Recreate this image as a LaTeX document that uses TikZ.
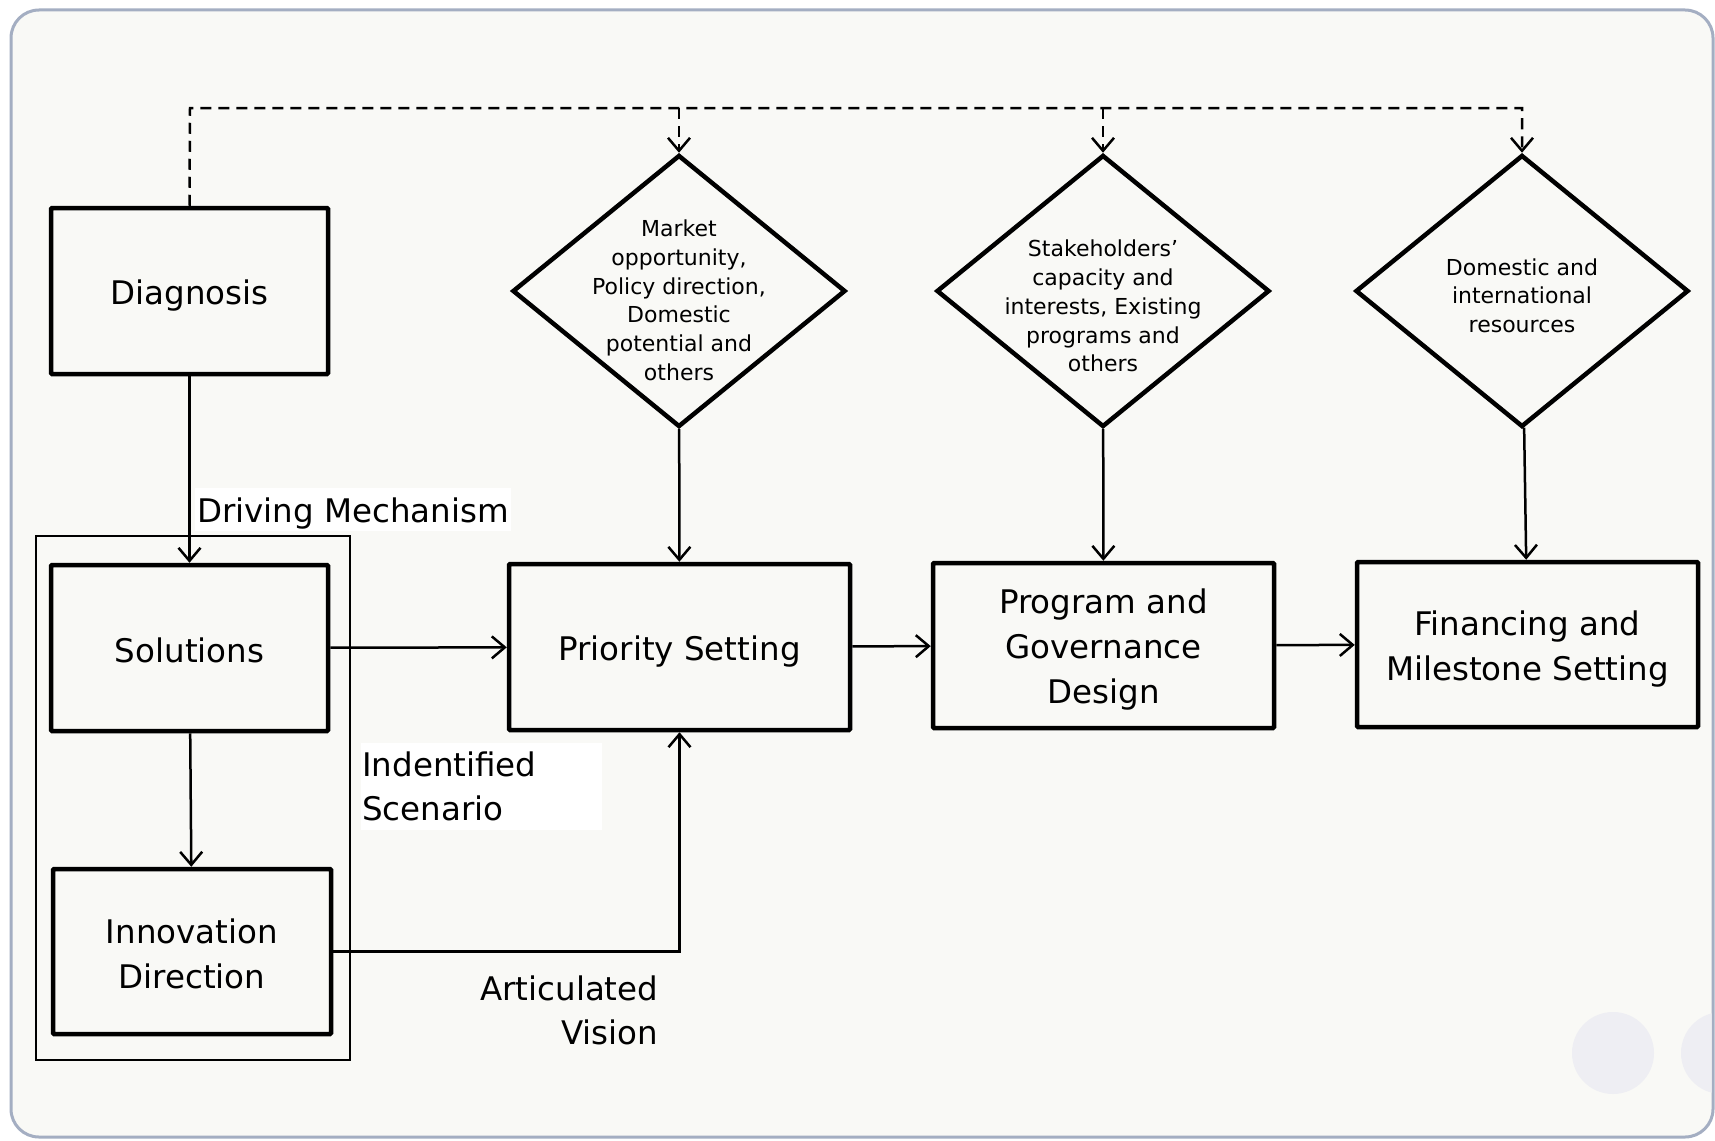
\documentclass[tikz,border=0pt]{standalone}
\usepackage{fontspec}
\setmainfont{DejaVu Sans}
\usetikzlibrary{arrows.meta,shapes.geometric}
\definecolor{panel}{HTML}{F9F9F6}
\definecolor{frameline}{HTML}{A4AEC2}
\definecolor{dot}{HTML}{EEEEF3}
% uniform line metrics for the text in the stage boxes
\newcommand\stagestrut{\rule[-5pt]{0pt}{38pt}}
\begin{document}
\begin{tikzpicture}[x=1pt,y=-1pt,
  stage/.style={draw, line width=4.5pt, rounded corners=1pt, align=center, inner sep=0pt,
    font=\fontsize{32.5}{45}\selectfont},
  factor/.style={draw, diamond, line width=4.5pt, minimum width=333pt, minimum height=272pt, inner sep=0pt},
  factortext/.style={align=center, inner sep=0pt, font=\fontsize{22}{28.7}\selectfont},
  tag/.style={inner sep=0pt, font=\fontsize{32.5}{44}\selectfont},
  flow/.style={line width=2.5pt, -{Straight Barb[length=13pt,width=22pt]}},
  busline/.style={line width=2.5pt, dash pattern=on 11pt off 7pt, -{Straight Barb[length=13pt,width=22pt]}},
]
\useasboundingbox (0,0) rectangle (1715,1140);
\fill[white] (0,0) rectangle (1715,1140);
% panel
\draw[frameline, line width=3pt, fill=panel, rounded corners=28pt] (11,10) rectangle (1713,1137);
\begin{scope}
  \clip[rounded corners=27pt] (12.5,11.5) rectangle (1711.5,1135.5);
  \fill[dot] (1613,1053) circle (41pt);
  \fill[dot] (1722,1053) circle (41pt);
\end{scope}

% left column
\node[draw, line width=1.5pt, minimum width=314pt, minimum height=524pt, inner sep=0pt] (group) at (193,798) {};
\node[stage, minimum width=277pt, minimum height=166pt] (diag) at (189.5,291) {\stagestrut Diagnosis};
\node[stage, minimum width=277pt, minimum height=166pt] (sol) at (189.5,648) {\stagestrut Solutions};
\node[stage, minimum width=278pt, minimum height=165pt] (innov) at (192,951.5)
  {\stagestrut Innovation\\\stagestrut Direction};

% main stages
\node[stage, minimum width=341pt, minimum height=166pt] (prio) at (679.5,647) {\stagestrut Priority Setting};
\node[stage, minimum width=341pt, minimum height=165pt] (prog) at (1103.5,645.5)
  {\stagestrut Program and\\\stagestrut Governance\\\stagestrut Design};
\node[stage, minimum width=341pt, minimum height=165pt] (fin) at (1527.5,644.5)
  {\stagestrut Financing and\\\stagestrut Milestone Setting};

% influencing factors
\node[factor] (dm1) at (679,291) {};
\node[factor] (dm2) at (1103,291) {};
\node[factor] (dm3) at (1522,291) {};
\node[factortext] (t1) at (679,300.3) {Market\\opportunity,\\Policy direction,\\Domestic\\potential and\\others};
\node[factortext] (t2) at (1103,306.1) {Stakeholders’\\capacity and\\interests, Existing\\programs and\\others};
\node[factortext] (t3) at (1522,295.6) {Domestic and\\international\\resources};

% labels
\node[tag, fill=white, anchor=base west, text height=31pt, text depth=6pt, inner xsep=2pt, inner ysep=3pt]
  (drive) at (195,522) {Driving Mechanism};
\node[tag, fill=white, anchor=north west, text width=239pt, align=left, inner xsep=1pt, inner ysep=9pt]
  (scen) at (361,743) {Indentified\\Scenario};
\node[tag, anchor=north east, align=right] (vision) at (658.5,976) {Articulated\\Vision};

% connectors
\draw[flow] (diag) -- (sol);
\draw[flow] (sol) -- (innov);
\draw[flow] (sol) -- (prio);
\draw[flow] (innov.east) -| (prio.south);
\draw[flow] (prio) -- (prog);
\draw[flow] (prog) -- (fin);
\draw[flow] (dm1) -- (prio);
\draw[flow] (dm2) -- (prog);
\draw[flow] (dm3) -- (fin);

% feedback bus from the diagnosis
\coordinate (bus) at (190,108);
\draw[busline] (diag.north) -- (bus) -- (bus -| dm3.north) -- (dm3.north);
\draw[busline] (bus -| dm1.north) -- (dm1.north);
\draw[busline] (bus -| dm2.north) -- (dm2.north);
\end{tikzpicture}
\end{document}
